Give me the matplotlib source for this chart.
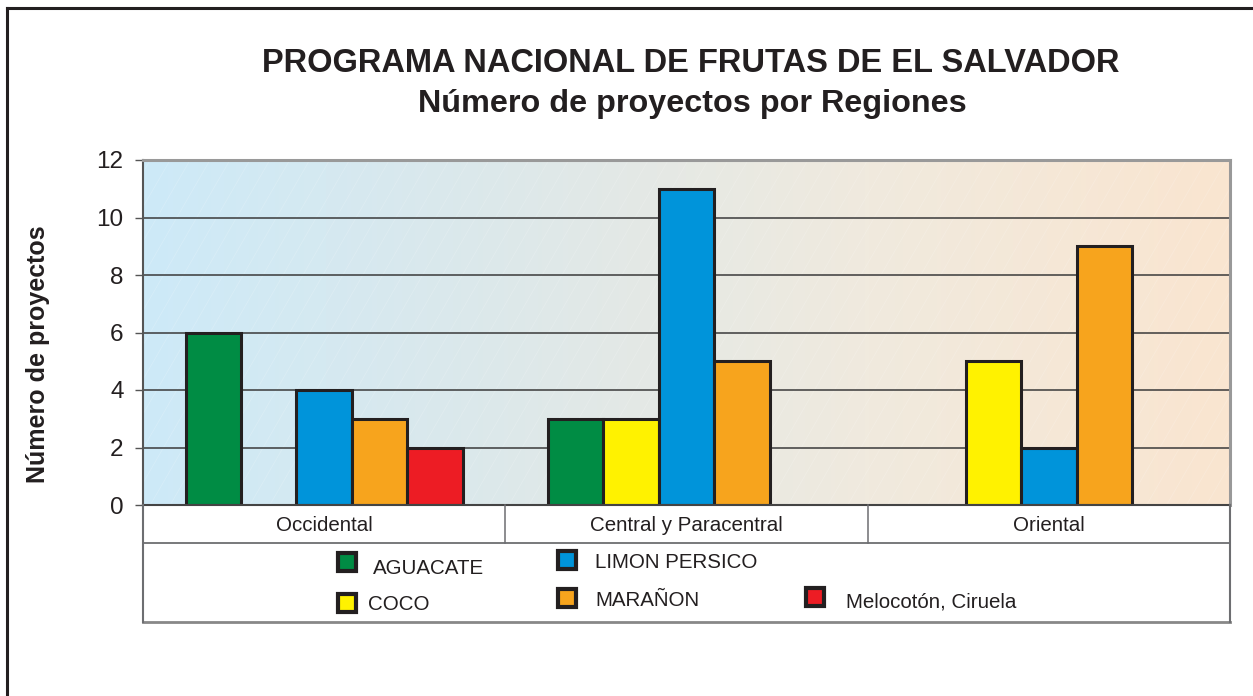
import numpy as np
import matplotlib
matplotlib.use("Agg")
import matplotlib.pyplot as plt
from matplotlib.colors import LinearSegmentedColormap

plt.rcParams["font.family"] = ["Liberation Sans", "DejaVu Sans"]

# data ---------------------------------------------------------------
regions = ["Occidental", "Central y Paracentral", "Oriental"]
series = ["AGUACATE", "COCO", "LIMON PERSICO", "MARAÑON", "Melocotón, Ciruela"]
colors = ["#008C44", "#FFF200", "#0094DA", "#F7A41D", "#ED1C24"]
aguacate = [6, 3, 0]
coco = [0, 3, 5]
limon = [4, 11, 2]
maranon = [3, 5, 9]
melocoton = [2, 0, 0]
values = [aguacate, coco, limon, maranon, melocoton]
yticks = [0, 2, 4, 6, 8, 10, 12]

W, H = 1253, 696
fig = plt.figure(figsize=(W / 100, H / 100), dpi=100)

def box(x0, y0, x1, y1):
    # pixel box (top-left origin) -> figure fraction rect
    return [x0 / W, 1 - y1 / H, (x1 - x0) / W, (y1 - y0) / H]

# outer frame (top and left edges only visible)
fig.add_artist(plt.Line2D([7 / W, 1], [1 - 8 / H, 1 - 8 / H], color="#231F20", lw=2.2,
                          transform=fig.transFigure))
fig.add_artist(plt.Line2D([7 / W, 7 / W], [0, 1 - 8 / H], color="#231F20", lw=2.2,
                          transform=fig.transFigure))

fig.text(691 / W, 1 - 63 / H, "PROGRAMA NACIONAL DE FRUTAS DE EL SALVADOR",
         ha="center", va="center", fontsize=23.5, fontweight="bold", color="#231F20")
fig.text(692 / W, 1 - 104 / H, "Número de proyectos por Regiones",
         ha="center", va="center", fontsize=23.3, fontweight="bold", color="#231F20")

# main axes ----------------------------------------------------------
ax = fig.add_axes(box(143, 160, 1230, 505))
ax.set_xlim(-0.5, len(regions) - 0.5)
ax.set_ylim(0, 12)

grad = LinearSegmentedColormap.from_list("bg", ["#CDEAF8", "#DDE8EA", "#F0EADE", "#FAE5D0"])
ax.imshow(np.linspace(0, 1, 256).reshape(1, -1), cmap=grad, aspect="auto",
          extent=[-0.5, len(regions) - 0.5, 0, 12], zorder=0)

# faint diagonal texture
for k in np.arange(-4, 4, 0.055):
    ax.plot([k, k + 0.55], [0, 12], color="white", lw=0.6, alpha=0.18, zorder=0.5)
ax.set_xlim(-0.5, len(regions) - 0.5)
ax.set_ylim(0, 12)

for y in yticks[1:-1]:
    ax.axhline(y, color="#3A3A3A", lw=1.1, zorder=1)

bw = 0.153
x = np.arange(len(regions))
for i, (name, vals, c) in enumerate(zip(series, values, colors)):
    v = np.array(vals, dtype=float)
    m = v > 0
    ax.bar(x[m] + (i - 2) * bw, v[m], width=bw, color=c, edgecolor="#231F20",
           linewidth=2.2, zorder=3)

ax.set_xticks([])
ax.set_yticks(yticks)
ax.set_yticklabels([str(t) for t in yticks], fontsize=17.5, color="#231F20")
ax.tick_params(axis="y", length=6, width=1, color="#555555", pad=8)
ax.spines["left"].set_color("#555555")
ax.spines["left"].set_linewidth(1.5)
for s in ["top", "right"]:
    ax.spines[s].set_color("#999999")
    ax.spines[s].set_linewidth(2.2)
ax.spines["bottom"].set_visible(False)

fig.text(38 / W, 1 - 354 / H, "Número de proyectos", rotation=90, ha="center",
         va="center", fontsize=18, fontweight="bold", color="#231F20")

# category / legend table -------------------------------------------
tab = fig.add_axes(box(143, 505, 1230, 622))
tab.set_xlim(-0.5, len(regions) - 0.5)
tab.set_ylim(116, 0)
tab.axis("off")
lc = "#6D6E71"
tab.plot([-0.5, 2.5], [0, 0], color="#444444", lw=1.5, clip_on=False)
tab.plot([-0.5, 2.5], [38, 38], color=lc, lw=1.3, clip_on=False)
tab.plot([-0.5, 2.5], [116, 116], color="#888888", lw=2, clip_on=False)
tab.plot([-0.5, -0.5], [0, 116], color=lc, lw=1.5, clip_on=False)
tab.plot([2.5, 2.5], [0, 116], color=lc, lw=1.5, clip_on=False)
for k in range(1, len(regions)):
    tab.plot([k - 0.5, k - 0.5], [0, 38], color=lc, lw=1.1, clip_on=False)
for k, r in enumerate(regions):
    tab.text(k, 20, r, ha="center", va="center", fontsize=14.8, color="#231F20")

# legend entries placed as in the reference (pixel positions)
leg_marker = [(347, 562), (347, 603), (567, 560), (567, 598), (815, 597)]
leg_text = [(373, 568), (368, 604), (595, 562), (595, 601), (846, 602)]
for name, c, (mx, my), (tx, ty) in zip(series, colors, leg_marker, leg_text):
    fig.add_artist(plt.Line2D([mx / W], [1 - my / H], marker="s", markersize=13,
                              markerfacecolor=c, markeredgecolor="#231F20",
                              markeredgewidth=3, transform=fig.transFigure))
    fig.text(tx / W, 1 - ty / H, name, ha="left", va="center", fontsize=14.8,
             color="#231F20")

fig.savefig("out.png", dpi=100)
